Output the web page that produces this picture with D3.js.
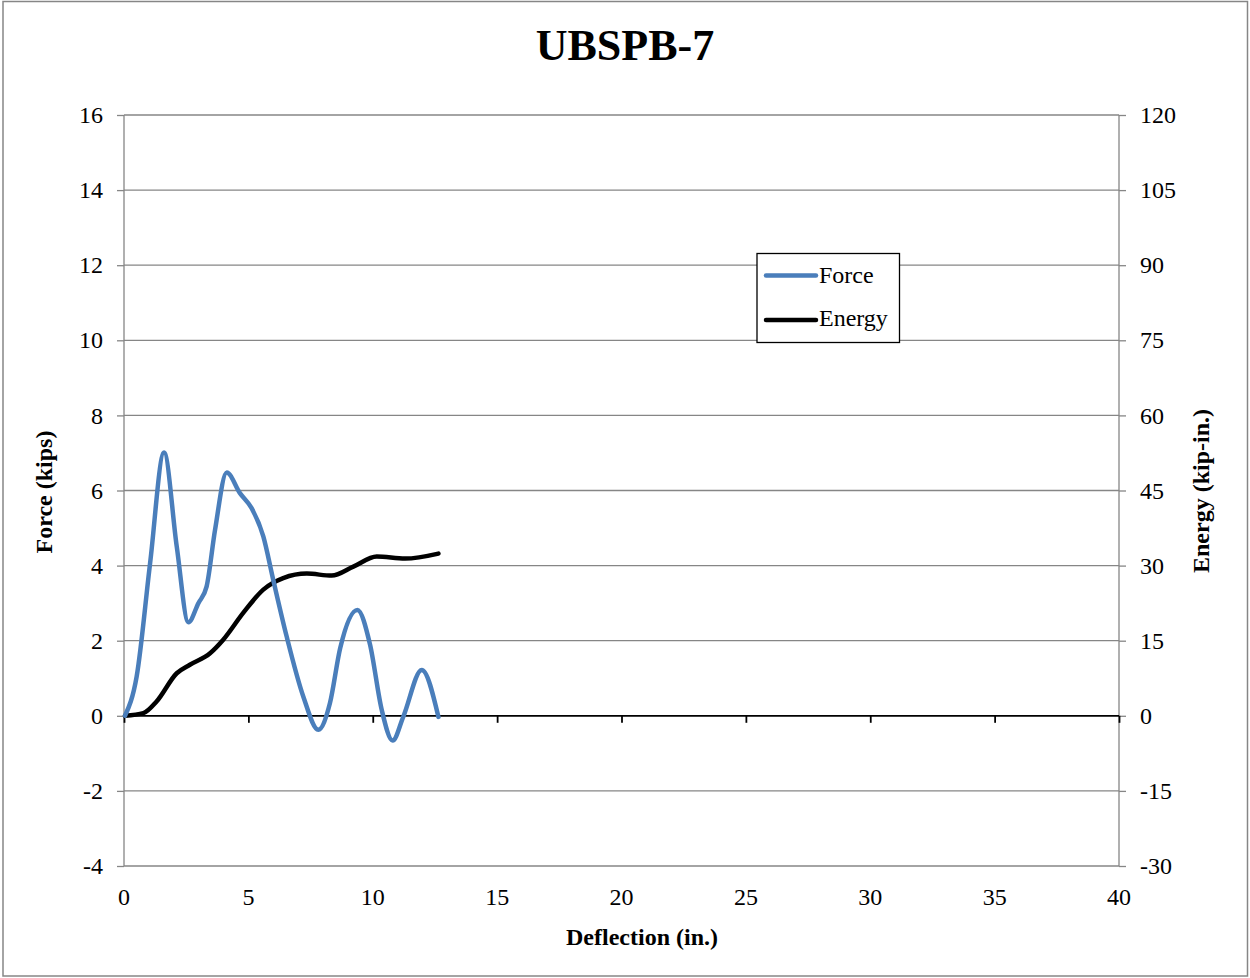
<!DOCTYPE html>
<html><head><meta charset="utf-8">
<script src="https://cdn.jsdelivr.net/npm/d3@7"></script>
<style>body{margin:0;background:#fff}svg{display:block}text{font-family:"Liberation Serif","Times New Roman",serif;fill:#000}</style>
</head><body><svg id="c" width="1250" height="978"></svg>
<script>
const title = "UBSPB-7";
const xTicks = [0,5,10,15,20,25,30,35,40];
const yLeftTicks = [-4,-2,0,2,4,6,8,10,12,14,16];
const yRightTicks = [-30,-15,0,15,30,45,60,75,90,105,120];
const forceX = [0.04,0.51,1.05,1.61,2.12,2.59,2.99,3.32,3.66,4.13,4.66,5.13,5.6,6.0,6.54,7.21,7.81,8.28,8.69,9.38,9.89,10.36,10.8,11.23,11.97,12.64];
const forceY = [0,1.05,4.07,7.01,4.51,2.49,3.0,3.44,4.95,6.48,5.93,5.53,4.78,3.62,2.11,0.51,-0.37,0.34,1.8,2.82,1.9,0.16,-0.66,-0.02,1.22,-0.03];
const energyX = [0.04,0.78,1.31,2.12,2.65,3.46,3.99,4.8,5.6,6.4,7.35,8.35,9.22,10.16,11.3,12.64];
const energyY = [0,0.53,2.86,8.5,10.2,12.5,15.2,20.6,25.2,27.5,28.4,28.0,29.8,31.8,31.4,32.4];

const svg = d3.select("#c");
const L=124,R=1119,T=115,B=866;
const FONT = "Liberation Serif";
const x = d3.scaleLinear().domain([0,40]).range([L,R]);
const yl = d3.scaleLinear().domain([-4,16]).range([B,T]);
const yr = d3.scaleLinear().domain([-30,120]).range([B,T]);
const fmt = d => String(d);

svg.append("rect").attr("x",3).attr("y",1.5).attr("width",1244.5).attr("height",974.5).attr("fill","#fff").attr("stroke","#868686").attr("stroke-width",1.5);

// gridlines
svg.append("g").selectAll("line").data(yLeftTicks.filter(d=>d!==0)).join("line")
  .attr("x1",L).attr("x2",R).attr("y1",d=>yl(d)).attr("y2",d=>yl(d)).attr("stroke","#868686").attr("stroke-width",1.3);

// left axis
const gl = svg.append("g").attr("transform",`translate(${L},0)`).call(d3.axisLeft(yl).tickValues(yLeftTicks).tickSize(7).tickPadding(14).tickFormat(fmt));
gl.attr("font-family",FONT).attr("font-size",24);
gl.selectAll("path,line").attr("stroke","#868686").attr("stroke-width",1.3);
gl.selectAll("text").attr("fill","#000");
gl.select(".domain").attr("d",`M0,${T}V${B}`);

// right axis
const gr = svg.append("g").attr("transform",`translate(${R},0)`).call(d3.axisRight(yr).tickValues(yRightTicks).tickSize(7).tickPadding(14).tickFormat(fmt));
gr.attr("font-family",FONT).attr("font-size",24);
gr.selectAll("path,line").attr("stroke","#868686").attr("stroke-width",1.3);
gr.selectAll("text").attr("fill","#000");
gr.select(".domain").attr("d",`M0,${T}V${B}`);

// x axis at zero with ticks
const gx = svg.append("g").attr("transform",`translate(0,${yl(0)})`).call(d3.axisBottom(x).tickValues(xTicks).tickSize(7).tickFormat(""));
gx.selectAll("path,line").attr("stroke","#000").attr("stroke-width",1.8);
gx.select(".domain").attr("d",`M${L},0H${R}`);
// x tick labels at bottom
svg.append("g").attr("font-family",FONT).selectAll("text").data(xTicks).join("text")
  .attr("x",d=>x(d)).attr("y",905).attr("text-anchor","middle").attr("font-size",24).text(fmt);

// lines
const fData = forceX.map((d,i)=>[d,forceY[i]]);
const eData = energyX.map((d,i)=>[d,energyY[i]]);
svg.append("path").datum(eData).attr("fill","none").attr("stroke","#000").attr("stroke-width",4.5).attr("stroke-linecap","round")
  .attr("d",d3.line().x(d=>x(d[0])).y(d=>yr(d[1])).curve(d3.curveMonotoneX));
svg.append("path").datum(fData).attr("fill","none").attr("stroke","#4a7ebb").attr("stroke-width",4.5).attr("stroke-linecap","round")
  .attr("d",d3.line().x(d=>x(d[0])).y(d=>yl(d[1])).curve(d3.curveMonotoneX));

// title
svg.append("text").attr("x",625).attr("y",60).attr("text-anchor","middle").attr("font-size",44).attr("font-weight","bold").text(title);
// axis titles
svg.append("text").attr("x",642).attr("y",945).attr("text-anchor","middle").attr("font-size",24).attr("font-weight","bold").text("Deflection (in.)");
svg.append("text").attr("transform","translate(52,492) rotate(-90)").attr("text-anchor","middle").attr("font-size",24).attr("font-weight","bold").text("Force (kips)");
svg.append("text").attr("transform","translate(1209,491) rotate(-90)").attr("text-anchor","middle").attr("font-size",24).attr("font-weight","bold").text("Energy (kip-in.)");

// legend
const lg = svg.append("g");
lg.append("rect").attr("x",757).attr("y",253.5).attr("width",142.5).attr("height",89).attr("fill","#fff").attr("stroke","#000").attr("stroke-width",1.3);
const items = [["Force","#4a7ebb",275.5,283],["Energy","#000",320,326]];
items.forEach(([n,c,yy,ty])=>{
  lg.append("line").attr("x1",766).attr("x2",816).attr("y1",yy).attr("y2",yy).attr("stroke",c).attr("stroke-width",4.5).attr("stroke-linecap","round");
  lg.append("text").attr("x",819).attr("y",ty).attr("font-size",24).text(n);
});
</script></body></html>
